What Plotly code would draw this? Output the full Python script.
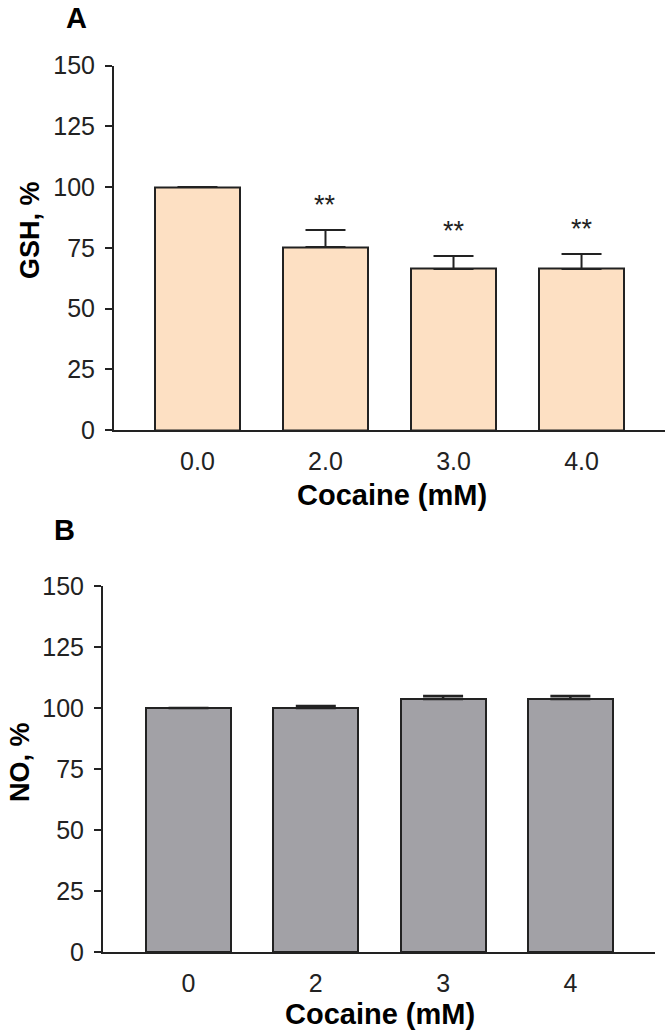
import plotly.graph_objects as go

# ---- data ----
cat_a = ["0.0", "2.0", "3.0", "4.0"]
gsh = [100, 75.3, 66.3, 66.3]
gsh_err = [None, 7.0, 5.3, 6.1]
gsh_sig = ["", "**", "**", "**"]

cat_b = ["0", "2", "3", "4"]
no_vals = [100, 100.0, 103.7, 103.7]
no_err = [None, 0.8, 1.2, 1.2]

yticks = [0, 25, 50, 75, 100, 125, 150]

W, H = 666, 1034
FONT = "Liberation Sans, Arial, sans-serif"
INK = "#222222"

def px_x(p):
    return p / W

def px_y(p):
    return 1 - p / H

fig = go.Figure()
idx_a = list(range(len(cat_a)))
idx_b = list(range(len(cat_b)))

fig.add_trace(go.Bar(
    x=idx_a, y=gsh, width=0.665, xaxis="x", yaxis="y",
    marker=dict(color="#FDE0C3", line=dict(color=INK, width=2)),
    error_y=dict(type="data", array=gsh_err, symmetric=False, arrayminus=[0]*4,
                 color=INK, thickness=2, width=20),
    showlegend=False, hoverinfo="skip"))

fig.add_trace(go.Bar(
    x=idx_b, y=no_vals, width=0.668, xaxis="x2", yaxis="y2",
    marker=dict(color="#A2A1A6", line=dict(color=INK, width=2)),
    error_y=dict(type="data", array=no_err, symmetric=False, arrayminus=[0]*4,
                 color=INK, thickness=2.5, width=20),
    showlegend=False, hoverinfo="skip"))

annotations = []
for i, s in enumerate(gsh_sig):
    if s:
        annotations.append(dict(x=idx_a[i], y=gsh[i] + (gsh_err[i] or 0) + 10.5, xref="x", yref="y",
                                text=s, showarrow=False, font=dict(family=FONT, size=27, color=INK),
                                xanchor="center", yanchor="middle"))

def label(x, y, text, size, angle=0):
    return dict(x=px_x(x), y=px_y(y), xref="paper", yref="paper", text=text, showarrow=False,
                textangle=angle, xanchor="center", yanchor="middle",
                font=dict(family=FONT, size=size, color="black"))

annotations += [
    label(76, 18, "<b>A</b>", 29),
    label(64, 530, "<b>B</b>", 29),
    label(30, 230, "<b>GSH, %</b>", 27, -90),
    label(20, 762, "<b>NO, %</b>", 27, -90),
    label(392, 495, "<b>Cocaine (mM)</b>", 29),
    label(380, 1014, "<b>Cocaine (mM)</b>", 29),
]

tickfont = dict(family=FONT, size=25, color=INK)

xcommon = dict(showline=True, linecolor=INK, linewidth=2, ticks="", showgrid=False, zeroline=False,
               tickfont=tickfont, ticklabelstandoff=8, tickmode="array", automargin=False)
ycommon = dict(showline=True, linecolor=INK, linewidth=2, ticks="outside", ticklen=7, tickwidth=2,
               tickcolor=INK, showgrid=False, zeroline=False, tickfont=tickfont, automargin=False,
               tickmode="array", tickvals=yticks, range=[0, 150], ticklabelstandoff=5)

fig.update_layout(
    template="none",
    width=W, height=H, margin=dict(l=0, r=0, t=0, b=0, pad=0, autoexpand=False),
    paper_bgcolor="white", plot_bgcolor="white", bargap=0,
    xaxis=dict(domain=[px_x(114), px_x(665)], range=[-0.652, 3.652], anchor="y",
               tickvals=idx_a, ticktext=cat_a, **xcommon),
    yaxis=dict(domain=[px_y(430), px_y(65.5)], anchor="x", **ycommon),
    xaxis2=dict(domain=[px_x(103), px_x(655)], range=[-0.672, 3.665], anchor="y2",
                tickvals=idx_b, ticktext=cat_b, **xcommon),
    yaxis2=dict(domain=[px_y(952), px_y(586)], anchor="x2", **ycommon),
    annotations=annotations,
)

post = ("document.body.style.margin='0';document.body.style.overflow='hidden';"
        "var gd=document.getElementById('{plot_id}');gd.style.position='fixed';"
        "gd.style.left='0';gd.style.top='0';")

fig.write_html("out.html", post_script=post, config={"displayModeBar": False})
